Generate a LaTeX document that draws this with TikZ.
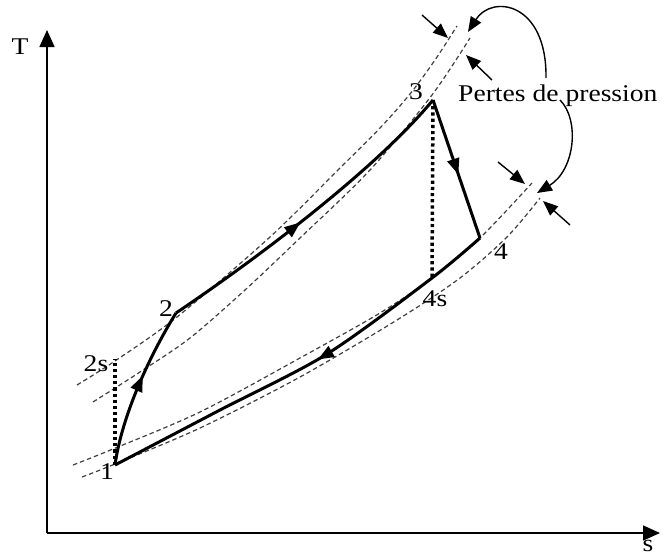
\documentclass[tikz,border=0pt]{standalone}
\usepackage{fontspec}
\setmainfont{Liberation Serif}[FakeStretch=1.15]
\usetikzlibrary{arrows.meta,decorations.markings}
\tikzset{
  cycleline/.style={line width=3pt, line join=miter},
  isobar/.style={black!75, line width=1.2pt, dash pattern=on 4.5pt off 3pt},
  dotline/.style={line width=3.5pt, dash pattern=on 3.2pt off 3pt},
  midarrow/.style={postaction={decorate}, decoration={markings, mark=at position #1 with {\arrow{Triangle[length=16pt,width=12pt]}}}},
  axis/.style={line width=1.6pt, -{Triangle[length=17pt,width=15pt]}},
  losspointer/.style={line width=1.4pt, -{Triangle[length=15pt,width=12pt]}},
  lbl/.style={font=\fontsize{24}{28}\selectfont, inner sep=0pt},
}
\begin{document}
\begin{tikzpicture}[x=1pt,y=-1pt]
\useasboundingbox (0,0) rectangle (665,558);
% axes
\coordinate (o) at (47,533);
\coordinate (ytip) at (47,30);
\coordinate (xtip) at (660,533);
\draw[axis] (o) -- (ytip);
\draw[axis] (o) -- (xtip);
\node[lbl] (T) at (20,47) {T};
\node[lbl] (S) at (648,546) {s};
% isobars
\draw[isobar] plot[smooth, tension=0.5] coordinates {(77,385) (115,361) (177,317) (270,237) (340,168) (380,128) (410,94) (435,60) (457,26)};
\draw[isobar] plot[smooth, tension=0.5] coordinates {(93,402) (140,372) (190,338) (245,290) (300,238) (370,170) (432,95) (470,38)};
\draw[isobar] plot[smooth, tension=0.5] coordinates {(73,465) (113,449) (200,412) (300,358) (380,313) (432,278) (480,238) (532,183)};
\draw[isobar] plot[smooth, tension=0.5] coordinates {(82,477) (115,464) (200,428) (300,377) (397,320) (460,278) (507,237) (540,198)};
% cycle points
\coordinate (p1) at (115,465);
\coordinate (p2) at (176,313);
\coordinate (p2s) at (115,359);
\coordinate (p3) at (433,100);
\coordinate (p4) at (480,238);
\coordinate (p4s) at (432,278);
\coordinate (m41) at (327,354);
\coordinate (m41b) at (220,410);
% dotted isentropes
\draw[dotline] (p3) -- (p4s);
\draw[dotline] (p1) -- (p2s);
% cycle
\draw[cycleline, midarrow=0.57] (p1) .. controls (122,415) and (150,355) .. (p2);
\draw[cycleline, midarrow=0.46] (p2) .. controls (255,260) and (375,170) .. (p3);
\draw[cycleline, midarrow=0.54] (p3) -- (p4);
\draw[cycleline, midarrow=0.47] plot[smooth, tension=0.5] coordinates {(p4) (p4s) (m41) (m41b) (p1)};
% labels
\node[lbl] (l1) at (107,472) {1};
\node[lbl] (l2) at (166,309) {2};
\node[lbl] (l2s) at (96,364) {2s};
\node[lbl] (l3) at (416,92) {3};
\node[lbl] (l4) at (501,252) {4};
\node[lbl] (l4s) at (435,299) {4s};
\node[lbl, anchor=base west] (pp) at (458,101) {Pertes de pression};
% pressure-loss pointers
\coordinate (a1s) at (422,15); \coordinate (a1e) at (448,38);
\coordinate (a2s) at (492,80); \coordinate (a2e) at (466,55);
\coordinate (a3s) at (498,162); \coordinate (a3e) at (525,184);
\coordinate (a4s) at (570,225); \coordinate (a4e) at (543,201);
\draw[losspointer] (a1s) -- (a1e);
\draw[losspointer] (a2s) -- (a2e);
\draw[losspointer] (a3s) -- (a3e);
\draw[losspointer] (a4s) -- (a4e);
\coordinate (c1s) at (546,78); \coordinate (c1e) at (468,32);
\coordinate (c2s) at (560,100); \coordinate (c2e) at (537,193);
\draw[losspointer] (c1s) .. controls (547,2) and (492,-6) .. (c1e);
\draw[losspointer] (c2s) .. controls (580,120) and (575,170) .. (c2e);
\end{tikzpicture}
\end{document}
